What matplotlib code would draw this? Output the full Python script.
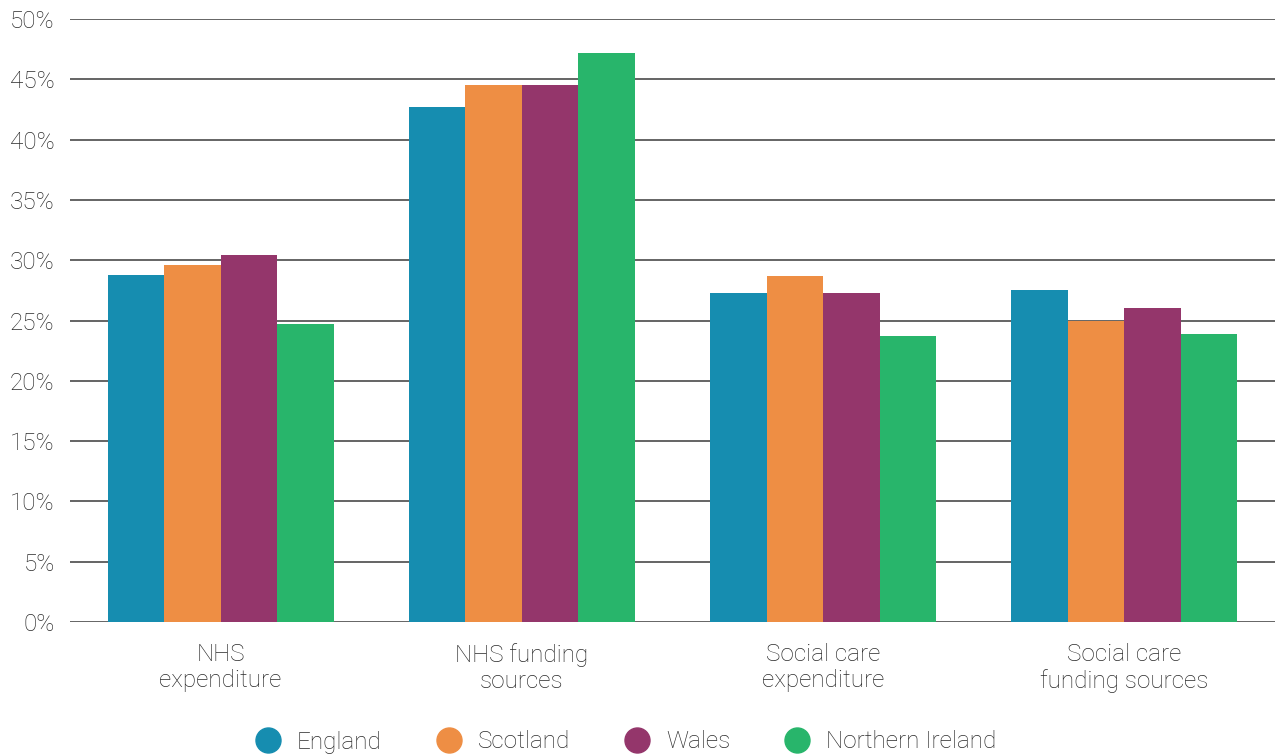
import numpy as np
import matplotlib.pyplot as plt
from matplotlib.lines import Line2D

plt.rcParams['font.family'] = ['Roboto', 'DejaVu Sans']
plt.rcParams['font.weight'] = 'light'

# data
categories = ['NHS\nexpenditure', 'NHS funding\nsources', 'Social care\nexpenditure', 'Social care\nfunding sources']
countries = ['England', 'Scotland', 'Wales', 'Northern Ireland']
england = [28.8, 42.7, 27.3, 27.5]
scotland = [29.6, 44.5, 28.7, 25.0]
wales = [30.4, 44.5, 27.3, 26.0]
n_ireland = [24.7, 47.2, 23.7, 23.9]
colors = ['#168db0', '#ee8e44', '#94366b', '#28b56b']

series = [england, scotland, wales, n_ireland]

fig = plt.figure(figsize=(12.75, 7.56), dpi=100)
ax = fig.add_axes([70/1275, 1-622/756, 1205/1275, 603/756])

x = np.arange(len(categories))
w = 0.1875
for i, (vals, c) in enumerate(zip(series, colors)):
    ax.bar(x + (i - 1.5)*w, vals, w, color=c, zorder=3, label=countries[i])

ax.set_xlim(-0.5, 3.5)
ax.set_ylim(0, 50)
ax.set_yticks(np.arange(0, 51, 5))
ax.set_yticklabels([f'{v}%' for v in range(0, 51, 5)])
ax.set_xticks(x)
ax.set_xticklabels(categories, linespacing=1.2)
ax.grid(axis='y', color='#4a4a4a', linewidth=1.2, zorder=0)
for s in ax.spines.values():
    s.set_visible(False)
ax.tick_params(axis='both', length=0, labelsize=17.5, labelcolor='#2a2a2a')
ax.tick_params(axis='y', pad=11)
ax.tick_params(axis='x', pad=15)

handles = [Line2D([], [], marker='o', linestyle='', markersize=18, color=c) for c in colors]
fig.legend(handles, countries, loc='center', bbox_to_anchor=(620/1275, 1-742/756), ncol=4,
           frameon=False, fontsize=17.5, handletextpad=0.2, columnspacing=1.75,
           labelcolor='#2a2a2a')

fig.savefig('out.png', dpi=100)
